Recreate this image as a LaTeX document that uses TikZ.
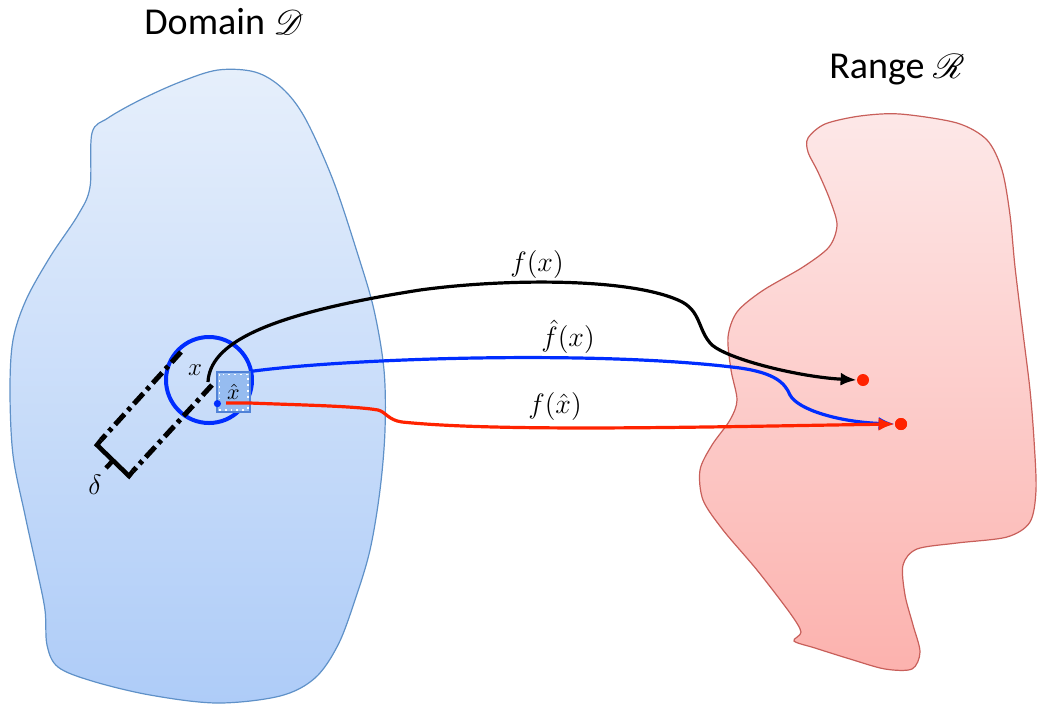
\documentclass[tikz,border=0pt]{standalone}
\usepackage{fix-cm}
\usepackage{mathrsfs}
\usepackage{fontspec}
\setmainfont{Carlito}
\usetikzlibrary{arrows.meta}
\definecolor{domtop}{RGB}{230,239,251}
\definecolor{dombot}{RGB}{174,204,248}
\definecolor{domline}{RGB}{95,145,200}
\definecolor{rantop}{RGB}{253,232,232}
\definecolor{ranbot}{RGB}{252,178,174}
\definecolor{ranline}{RGB}{200,95,90}
\definecolor{myblue}{RGB}{0,45,255}
\definecolor{myred}{RGB}{255,35,0}
\definecolor{boxfill}{RGB}{150,188,240}
\definecolor{boxline}{RGB}{80,130,215}
\begin{document}
\begin{tikzpicture}[x=0.5pt,y=-0.5pt,
  curve/.style={line width=1.6pt},
  tipstyle/.style={-{Latex[length=8pt,width=6.5pt]}},
  dashdot/.style={line width=2.5pt, dash pattern=on 7pt off 2.5pt on 2pt off 2.5pt},
  bracketline/.style={line width=2.3pt, line join=miter},
  lbl/.style={font=\fontsize{14}{16}\selectfont, inner sep=1pt},
  smalllbl/.style={font=\fontsize{12.5}{14}\selectfont, inner sep=0pt},
  title/.style={font=\fontsize{19}{22}\selectfont, inner sep=0pt},
  enddot/.style={circle, fill=myred, inner sep=0pt, minimum size=6pt}]
\useasboundingbox (0,0) rectangle (1037,709);

% Domain blob
\path[draw=domline, line width=0.6pt, top color=domtop, bottom color=dombot]
  plot[smooth cycle, tension=0.55] coordinates {
  (92,133) (108,118) (140,100) (180,82) (218,70) (255,72) (282,88) (305,118)
  (333,180) (358,255) (374,310) (384,370) (385,430) (380,490) (370,550)
  (355,600) (338,645) (315,678) (280,696) (217,703) (150,695) (92,681)
  (58,667) (47,645) (45,610) (37,570) (25,515) (13,455) (10,390) (13,340)
  (26,300) (50,257) (78,215) (90,187)};

% Range blob
\path[draw=ranline, line width=0.6pt, top color=rantop, bottom color=ranbot]
  plot[smooth cycle, tension=0.5] coordinates {
  (808,138) (825,124) (860,116) (900,114) (957,123) (987,140) (1002,170)
  (1010,215) (1015,267) (1023,333) (1030,390) (1034,440) (1036,490)
  (1030,522) (1007,537) (957,543) (917,549) (903,565) (905,595) (913,625)
  (920,652) (912,669) (885,669) (850,659) (815,648) (794,641) (801,632)
  (790,613) (757,570) (723,530) (703,500) (700,470) (712,445) (730,420)
  (737,400) (731,370) (728,337) (737,312) (762,291) (803,267) (829,247)
  (837,225) (830,200) (818,172) (808,152)};

% ball around x
\node[circle, draw=myblue, line width=2pt, minimum size=43pt, inner sep=0pt] (ball) at (209,380) {};

% delta strip
\coordinate (xpt) at (208,382);
\coordinate (u0) at (181,352);
\coordinate (u1) at (101,440);
\coordinate (l0) at (212,385);
\coordinate (l1) at (133,471);
\coordinate (b1) at (97,445);
\coordinate (b2) at (129,476);
\coordinate (bm) at (113,460.5);
\coordinate (bt) at (106,468);
\draw[dashdot] (u0) -- (u1);
\draw[dashdot] (l0) -- (l1);
\draw[bracketline] (u1) -- (b1) -- (b2) -- (l1);
\draw[bracketline] (bm) -- (bt);
\node[lbl] (dlab) at (95,485) {$\delta$};

% x label
\node[smalllbl] (xlab) at (195,370) {$x$};

% end points
\node[enddot] (fx) at (863,380) {};
\node[enddot] (fxh) at (901,424) {};

% f(x)
\draw[curve, tipstyle, black] (xpt) .. controls (210,345) and (260,315) .. (420,290)
  .. controls (500,279) and (625,277) .. (678,300)
  .. controls (702,310) and (697,330) .. (712,345)
  .. controls (730,360) and (800,377) .. (fx.west);

% x-hat box
\node[draw=boxline, fill=boxfill, line width=0.6pt, minimum width=16.5pt, minimum height=20pt, inner sep=0pt] (xhat) at (233.5,392) {};
\draw[white, dotted, line width=0.9pt] ([shift={(3,3)}]xhat.north west) rectangle ([shift={(-3,-3)}]xhat.south east);
\node[smalllbl, font=\fontsize{11}{13}\selectfont] (xhatlab) at (xhat.center) {$\hat{x}$};
\fill[myblue] ([shift={(1,-9)}]xhat.south west) circle (1.8pt);

% f-hat(x)
\draw[curve, tipstyle, myblue] (xhat.north east) .. controls (350,358) and (600,350) .. (740,368)
  .. controls (775,373) and (785,383) .. (790,395)
  .. controls (798,410) and (840,422) .. (fxh.west);

% f(x-hat)
\coordinate (rs) at (226,403);
\draw[curve, tipstyle, myred] (rs) -- (250,403) .. controls (300,405) and (355,406) .. (378,410)
  .. controls (386,412) and (388,420) .. (402,422)
  .. controls (500,432) and (700,427) .. (fxh.west);
\node[enddot] at (fxh) {};

% labels
\node[lbl] (lfx) at (537,264) {$f(x)$};
\node[lbl] (lfhx) at (568,337) {$\hat{f}(x)$};
\node[lbl] (lfxh) at (555,406) {$f(\hat{x})$};

\node[title] (dom) at (224,22) {Domain $\mathscr{D}$};
\node[title] (ran) at (897,70) {Range $\mathscr{R}$};
\end{tikzpicture}
\end{document}
